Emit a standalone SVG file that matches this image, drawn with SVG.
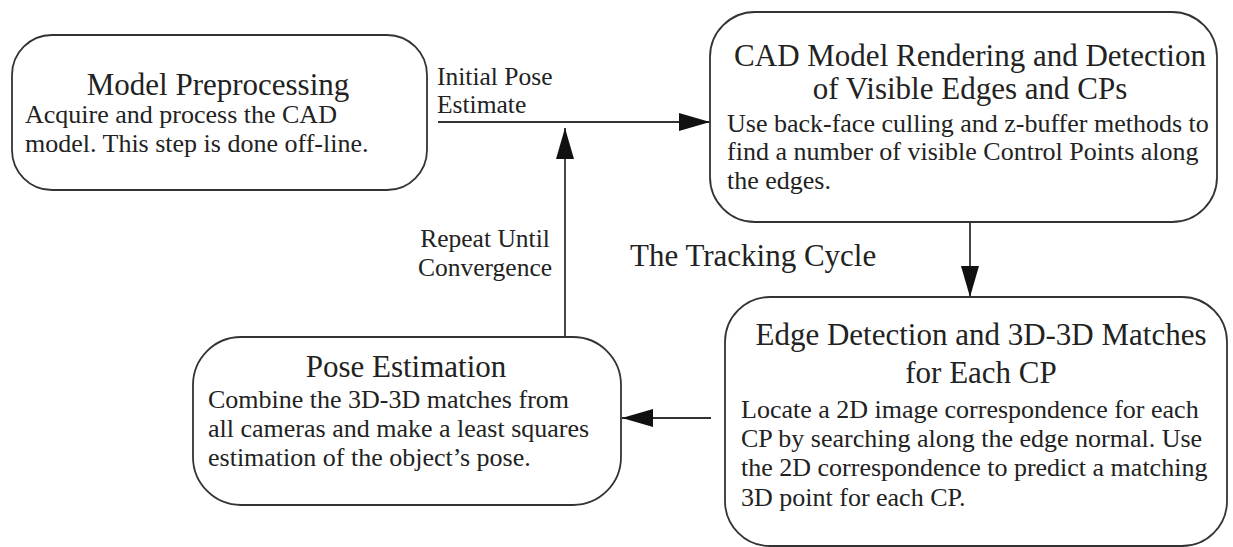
<svg xmlns="http://www.w3.org/2000/svg" width="1233" height="547" viewBox="0 0 1233 547">
<style>
.box{fill:#fff;stroke:#333;stroke-width:1.8}
.t{font-family:"Liberation Serif","Times New Roman",serif;fill:#222}
.h{font-size:31px;text-anchor:middle}
.b{font-size:26px}
.l{font-size:25.5px}
.c{stroke:#333;stroke-width:1.8;fill:none;marker-end:url(#ah)}
</style>
<defs>
<marker id="ah" markerUnits="userSpaceOnUse" markerWidth="32" markerHeight="18" viewBox="0 0 32 18" refX="31" refY="9" orient="auto">
<path d="M0,0 L31,9 L0,18 Z" fill="#111"/>
</marker>
</defs>
<rect width="1233" height="547" fill="#fff"/>
<g id="connectors">
<line class="c" x1="438" y1="122" x2="710" y2="122"/>
<line class="c" x1="970" y1="222" x2="970" y2="297"/>
<line class="c" x1="711" y1="418" x2="622" y2="418"/>
<line class="c" x1="565" y1="337" x2="565" y2="128"/>
</g>
<g id="model-preprocessing">
<rect class="box" x="12" y="35" width="415" height="155" rx="40"/>
<text class="t h" x="218" y="95">Model Preprocessing</text>
<text class="t b" x="25" y="123">Acquire and process the CAD</text>
<text class="t b" x="25" y="152">model. This step is done off-line.</text>
</g>
<g id="cad-rendering">
<rect class="box" x="710" y="12" width="507" height="210" rx="45"/>
<text class="t h" x="970" y="66">CAD Model Rendering and Detection</text>
<text class="t h" x="970" y="99">of Visible Edges and CPs</text>
<text class="t b" x="727" y="132">Use back-face culling and z-buffer methods to</text>
<text class="t b" x="727" y="160">find a number of visible Control Points along</text>
<text class="t b" x="727" y="189">the edges.</text>
</g>
<g id="edge-detection">
<rect class="box" x="725" y="297" width="502" height="249" rx="45"/>
<text class="t h" x="981" y="345">Edge Detection and 3D-3D Matches</text>
<text class="t h" x="981" y="383">for Each CP</text>
<text class="t b" x="741" y="418">Locate a 2D image correspondence for each</text>
<text class="t b" x="741" y="447">CP by searching along the edge normal. Use</text>
<text class="t b" x="741" y="476">the 2D correspondence to predict a matching</text>
<text class="t b" x="741" y="506">3D point for each CP.</text>
</g>
<g id="pose-estimation">
<rect class="box" x="193" y="337" width="428" height="168" rx="48"/>
<text class="t h" x="406" y="377">Pose Estimation</text>
<text class="t b" x="208" y="408">Combine the 3D-3D matches from</text>
<text class="t b" x="208" y="437">all cameras and make a least squares</text>
<text class="t b" x="208" y="466">estimation of the object’s pose.</text>
</g>
<g id="labels">
<text class="t l" x="437" y="85">Initial Pose</text>
<text class="t l" x="437" y="113">Estimate</text>
<text class="t l" x="485" y="247" text-anchor="middle">Repeat Until</text>
<text class="t l" x="485" y="276" text-anchor="middle">Convergence</text>
<text class="t" x="630" y="266" font-size="31">The Tracking Cycle</text>
</g>
</svg>
